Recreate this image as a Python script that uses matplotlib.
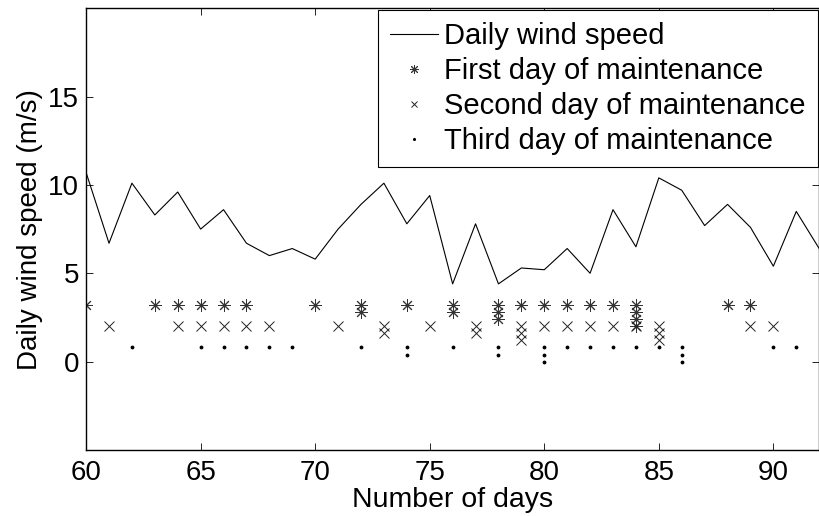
import matplotlib
matplotlib.use("Agg")
import matplotlib.pyplot as plt
from collections import Counter

plt.rcParams['font.family'] = ['Liberation Sans', 'DejaVu Sans']

# daily wind speed, days 60..92
days = list(range(60, 93))
wind = [10.7, 6.7, 10.1, 8.3, 9.6, 7.5, 8.6, 6.7, 6.0, 6.4, 5.8,
        7.5, 8.9, 10.1, 7.8, 9.4, 4.4, 7.8, 4.4, 5.3, 5.2, 6.4,
        5.0, 8.6, 6.5, 10.4, 9.7, 7.7, 8.9, 7.6, 5.4, 8.5, 6.4]

# maintenance days (repeated day = several events that day)
first_days = [60, 63, 64, 65, 66, 67, 70, 72, 72, 74, 76, 76, 78, 78, 78,
              79, 80, 81, 82, 83, 84, 84, 84, 84, 88, 89]
second_days = [61, 64, 65, 66, 67, 68, 71, 73, 73, 75, 77, 77, 79, 79, 79,
               80, 81, 82, 83, 84, 85, 85, 85, 89, 90]
third_days = [62, 65, 66, 67, 68, 69, 72, 74, 74, 76, 78, 78, 80, 80, 80,
              81, 82, 83, 84, 85, 86, 86, 86, 90, 91]

first_level, second_level, third_level = 3.2, 2.0, 0.8
step = 0.4


def stack(day_list, level):
    xs, ys = [], []
    seen = Counter()
    for d in day_list:
        xs.append(d)
        ys.append(level - step * seen[d])
        seen[d] += 1
    return xs, ys


fig = plt.figure(figsize=(8.2, 5.16), dpi=100)
ax = fig.add_axes([0.105, 0.128, 0.894, 0.856])

ax.plot(days, wind, color='black', linewidth=0.8, label='Daily wind speed')

x1, y1 = stack(first_days, first_level)
x2, y2 = stack(second_days, second_level)
x3, y3 = stack(third_days, third_level)
ax.plot(x1, y1, linestyle='none', marker=(8, 2, 0), markersize=9,
        markeredgewidth=0.7, color='#333333', label='First day of maintenance')
ax.plot(x2, y2, linestyle='none', marker='x', markersize=6.5,
        markeredgewidth=0.7, color='#222222', label='Second day of maintenance')
ax.plot(x3, y3, linestyle='none', marker='.', markersize=3.5,
        color='black', label='Third day of maintenance')

ax.set_xlim(60, 92)
ax.set_ylim(-5, 20)
ax.set_xticks(range(60, 91, 5))
ax.set_yticks([0, 5, 10, 15])
ax.tick_params(direction='in', length=5, width=0.6, labelsize=20,
               top=True, right=True)
ax.tick_params(axis='x', pad=7)
ax.tick_params(axis='y', pad=5)
for s in ax.spines.values():
    s.set_linewidth(1.0)

ax.set_xlabel('Number of days', fontsize=20.5, labelpad=1)
ax.set_ylabel('Daily wind speed (m/s)', fontsize=20, labelpad=4)

leg = ax.legend(loc='upper right', fontsize=21, frameon=True, fancybox=False,
                edgecolor='black', framealpha=1, borderaxespad=0.05,
                handlelength=1.65, handletextpad=0.2, labelspacing=0.24,
                borderpad=0.42, markerscale=0.7)
leg.get_frame().set_linewidth(0.8)

fig.savefig('out.png', dpi=100)
